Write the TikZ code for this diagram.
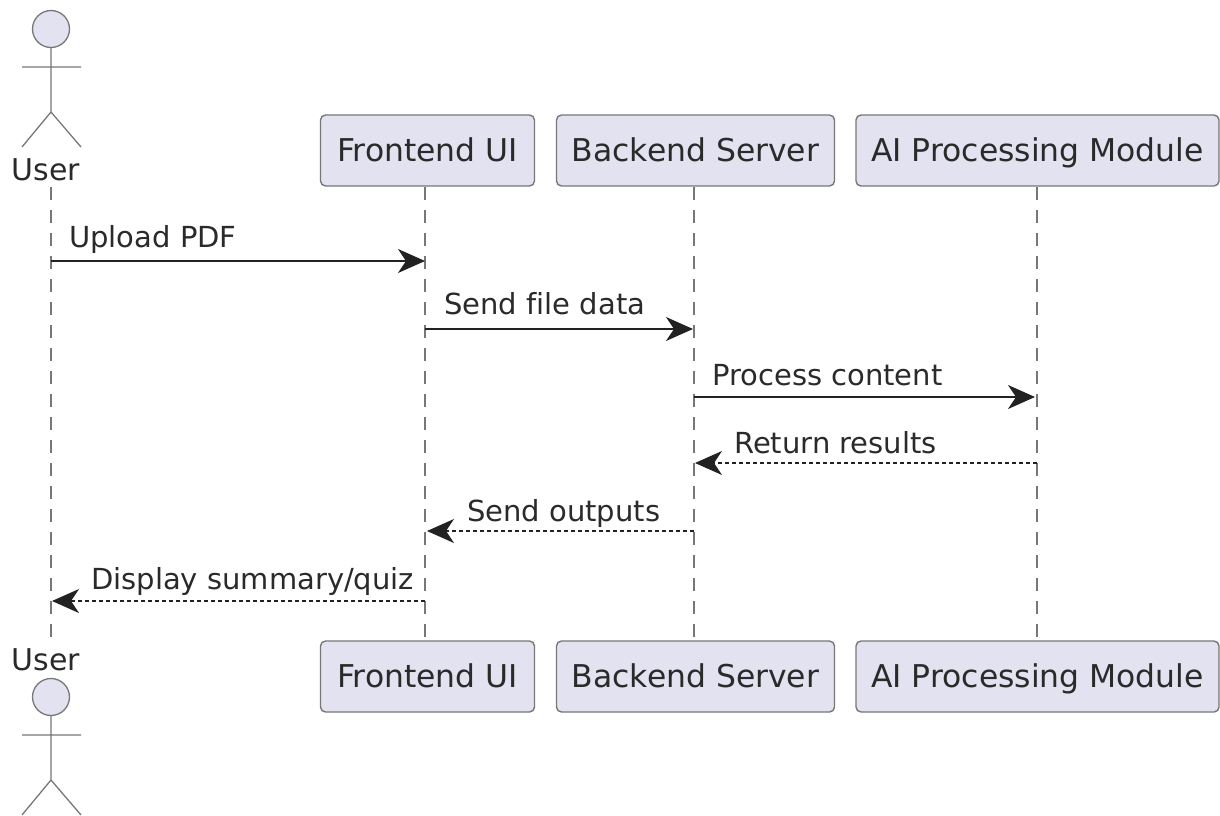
\documentclass[tikz,border=0pt]{standalone}
\usepackage{fontspec}
\setmainfont[Ligatures=NoCommon]{DejaVu Sans}
\usetikzlibrary{arrows.meta}
\definecolor{pbox}{HTML}{E2E2F0}
\definecolor{pline}{HTML}{777777}
\definecolor{parrow}{HTML}{222222}
\definecolor{ptext}{HTML}{2A2A2A}
\tikzset{x=1pt,y=-1pt,
 part/.style={draw=pline,fill=pbox,rounded corners=5pt,line width=1.4pt,minimum height=71pt,inner sep=0pt,text=ptext,text height=23pt,text depth=2pt,font=\fontsize{31.4}{36}\selectfont},
 life/.style={draw=pline,line width=1.2pt,dash pattern=on 13pt off 10pt},
 lbl/.style={inner sep=0pt,anchor=base west,font=\fontsize{29}{34}\selectfont,text=ptext},
 actname/.style={inner sep=0pt,anchor=base,font=\fontsize{30}{34}\selectfont,text=ptext},
 msg/.style={draw=parrow,line width=1.3pt,-{Stealth[length=27pt,width=24pt,inset=8pt]}},
 ret/.style={msg,dash pattern=on 4pt off 3pt},
 limb/.style={draw=pline,line width=1.3pt},
}
\newcommand{\stick}[2]{%
 \node[draw=pline,fill=pbox,circle,minimum size=37pt,inner sep=0pt,line width=1.3pt] (#2h) at (51,#1+29) {};
 \coordinate (#2n) at (51,#1+48);
 \coordinate (#2w) at (51,#1+112);
 \coordinate (#2a) at (22,#1+67);
 \coordinate (#2b) at (81,#1+67);
 \coordinate (#2l) at (22,#1+147);
 \coordinate (#2r) at (81,#1+147);
 \draw[limb] (#2n)--(#2w) (#2a)--(#2b) (#2w)--(#2l) (#2w)--(#2r);
}
\begin{document}
\begin{tikzpicture}
\useasboundingbox (0,0) rectangle (1220,816);
\node[part,minimum width=214pt] (ft) at (427.5,150.5) {Frontend UI};
\node[part,minimum width=278pt] (bt) at (695.5,150.5) {Backend Server};
\node[part,minimum width=363pt] (at) at (1037.5,150.5) {AI Processing Module};
\node[part,minimum width=214pt] (fb) at (427.5,676.5) {Frontend UI};
\node[part,minimum width=278pt] (bb) at (695.5,676.5) {Backend Server};
\node[part,minimum width=363pt] (ab) at (1037.5,676.5) {AI Processing Module};
\node[actname] (ut) at (46,180) {User};
\node[actname] (ub) at (46,670) {User};
\coordinate (ul1) at (51,187);
\coordinate (ul2) at (51,644);
\draw[life] (ul1)--(ul2);
\draw[life] (425,187)--(425,641);
\draw[life] (694,187)--(694,641);
\draw[life] (1037,187)--(1037,641);
\stick{0}{t}
\stick{668}{o}
\coordinate (m1a) at (51,261); \coordinate (m1b) at (425,261);
\coordinate (m2a) at (425,329); \coordinate (m2b) at (693,329);
\coordinate (m3a) at (694,397); \coordinate (m3b) at (1035,397);
\coordinate (m4a) at (1037,463); \coordinate (m4b) at (695,463);
\coordinate (m5a) at (694,531); \coordinate (m5b) at (427,531);
\coordinate (m6a) at (425,601); \coordinate (m6b) at (52,601);
\draw[msg] (m1a)--(m1b);
\draw[msg] (m2a)--(m2b);
\draw[msg] (m3a)--(m3b);
\draw[ret] (m4a)--(m4b);
\draw[ret] (m5a)--(m5b);
\draw[ret] (m6a)--(m6b);
\node[lbl] (l1) at (69,247) {Upload PDF};
\node[lbl] (l2) at (444,314) {Send file data};
\node[lbl] (l3) at (712,385) {Process content};
\node[lbl] (l4) at (734,453) {Return results};
\node[lbl] (l5) at (467,521) {Send outputs};
\node[lbl] (l6) at (91,589) {Display summary/quiz};
\end{tikzpicture}
\end{document}
